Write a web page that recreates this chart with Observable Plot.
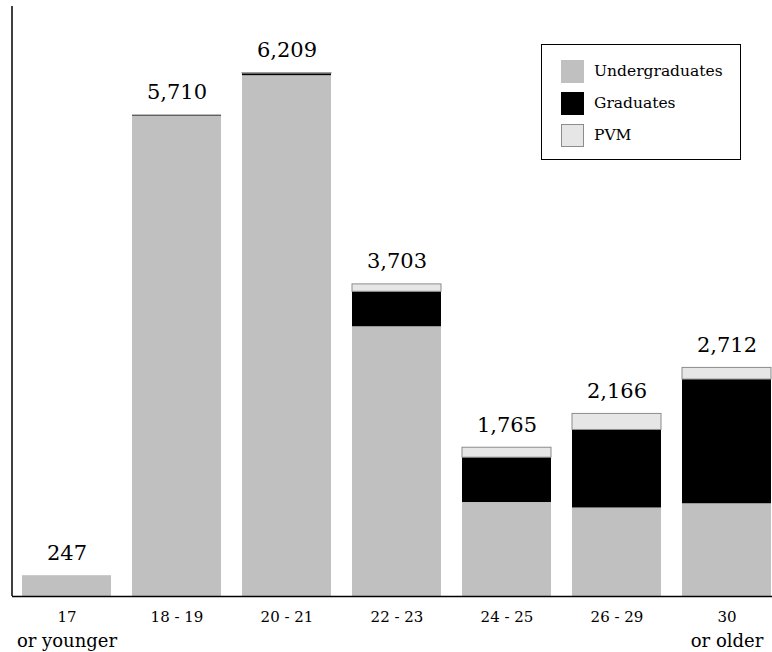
<!DOCTYPE html>
<html>
<head>
<meta charset="utf-8">
<script src="https://cdn.jsdelivr.net/npm/d3@7"></script>
<script src="https://cdn.jsdelivr.net/npm/@observablehq/plot@0.6"></script>
<style>
  html, body { margin: 0; padding: 0; background: #fff; }
  #wrap { position: relative; width: 772px; height: 652px; }
  #legend {
    position: absolute; left: 541px; top: 44px; width: 198px; height: 114px;
    border: 1.5px solid #000; background: #fff; font-family: "DejaVu Serif", serif; font-size: 15.5px;
  }
  .row { position: absolute; left: 19px; display: flex; align-items: center; height: 24px; }
  .sw { width: 23px; height: 23px; box-sizing: border-box; margin-right: 10px; }
</style>
</head>
<body>
<div id="wrap"></div>
<script>
const ageLine1 = ["17", "18 - 19", "20 - 21", "22 - 23", "24 - 25", "26 - 29", "30"];
const ageLine2 = ["or younger", "", "", "", "", "", "or older"];
const groups = ["Undergraduates", "Graduates", "PVM"];
const groupColors = ["#c0c0c0", "#000000", "#e6e6e6"];
const undergrad = [247, 5700, 6179, 3200, 1115, 1050, 1100];
const graduates = [0, 10, 25, 415, 532, 926, 1474];
const pvm = [0, 0, 5, 88, 118, 190, 138];
const totals = [247, 5710, 6209, 3703, 1765, 2166, 2712];

const FONT = "DejaVu Serif";

const series = [undergrad, graduates, pvm];
const table = [];
ageLine1.forEach((age, i) => {
  groups.forEach((g, j) => table.push({age, group: g, value: series[j][i]}));
});

const yAxisLine = (index, scales, values, dimensions) => {
  const {marginLeft, marginTop, height, marginBottom} = dimensions;
  const g = d3.create("svg:g");
  g.append("line")
    .attr("x1", marginLeft).attr("x2", marginLeft)
    .attr("y1", marginTop).attr("y2", height - marginBottom)
    .attr("stroke", "#000").attr("stroke-width", 1.5);
  return g.node();
};

const chart = Plot.plot({
  width: 772,
  height: 652,
  marginLeft: 12,
  marginRight: 0,
  marginTop: 6,
  marginBottom: 56,
  style: {fontFamily: FONT, background: "#fff", color: "#000"},
  x: {domain: ageLine1, range: [12, 782], paddingInner: 0.19, paddingOuter: 0.095, label: null},
  y: {domain: [0, 7000], axis: null},
  color: {domain: groups, range: groupColors},
  opacity: {domain: [0, 1], range: [0, 1]},
  marks: [
    Plot.barY(table, {x: "age", y: "value", fill: "group", stroke: "#8c8c8c", strokeOpacity: d => d.group === "PVM" && d.value > 0 ? 1 : 0, strokeWidth: 1}),
    Plot.axisX({tickSize: 0, tickPadding: 15, fontSize: 15, fontFamily: FONT, label: null}),
    Plot.text(ageLine1, {x: d => d, text: (d, i) => ageLine2[i], frameAnchor: "bottom", dy: 50, lineAnchor: "bottom", fontSize: 18, fontFamily: FONT, fill: "#000"}),
    Plot.text(totals, {x: (d, i) => ageLine1[i], y: d => d, text: d => d3.format(",")(d), dy: -16, lineAnchor: "bottom", fontSize: 21, fontFamily: FONT, fill: "#000"}),
    Plot.ruleY([0], {stroke: "#000", strokeWidth: 1.5}),
    yAxisLine
  ]
});
const wrap = document.getElementById("wrap");
wrap.appendChild(chart);

const legend = document.createElement("div");
legend.id = "legend";
groups.forEach((g, j) => {
  const row = document.createElement("div");
  row.className = "row";
  row.style.top = (14 + j * 32) + "px";
  const sw = document.createElement("div");
  sw.className = "sw";
  sw.style.background = groupColors[j];
  if (g === "PVM") sw.style.border = "1px solid #8c8c8c";
  const lab = document.createElement("span");
  lab.textContent = g;
  row.appendChild(sw);
  row.appendChild(lab);
  legend.appendChild(row);
});
wrap.appendChild(legend);
</script>
</body>
</html>
